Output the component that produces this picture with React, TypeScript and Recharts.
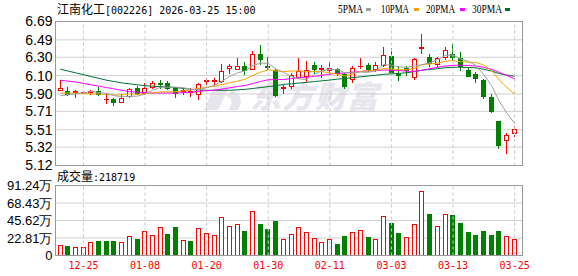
import React from "react"
import { Bar, CartesianGrid, ComposedChart, Line, ReferenceLine, XAxis, YAxis } from "recharts"

// K-line + volume panel, East Money style.

const dates = [
  "12-22", "12-23", "12-24", "12-25", "12-26", "12-29", "12-30", "12-31", "01-05", "01-06",
  "01-07", "01-08", "01-09", "01-12", "01-13", "01-14", "01-15", "01-16", "01-19", "01-20",
  "01-21", "01-22", "01-23", "01-26", "01-27", "01-28", "01-29", "01-30", "02-02", "02-03",
  "02-04", "02-05", "02-06", "02-09", "02-10", "02-11", "02-12", "02-13", "02-24", "02-25",
  "02-26", "02-27", "03-02", "03-03", "03-04", "03-05", "03-06", "03-09", "03-10", "03-11",
  "03-12", "03-13", "03-16", "03-17", "03-18", "03-19", "03-20", "03-23", "03-24", "03-25",
]

const opens = [
  5.94, 5.93, 5.92, 5.92, 5.92, 5.93, 5.84, 5.85, 5.81, 5.88,
  5.97, 5.91, 5.98, 6.02, 6.02, 5.97, 5.93, 5.92, 5.90, 6.04,
  6.04, 6.04, 6.18, 6.17, 6.20, 6.17, 6.34, 6.20, 6.16, 5.97,
  5.99, 6.08, 6.10, 6.22, 6.17, 6.16, 6.17, 6.12, 6.06, 6.20,
  6.22, 6.17, 6.22, 6.31, 6.12, 6.18, 6.08, 6.40, 6.30, 6.23,
  6.30, 6.34, 6.29, 6.16, 6.12, 6.05, 5.87, 5.61, 5.40, 5.47,
]
const highs = [
  6.05, 5.98, 5.94, 5.93, 5.94, 5.98, 5.91, 5.86, 5.90, 5.96,
  5.99, 6.02, 6.04, 6.05, 6.04, 5.98, 5.96, 5.96, 6.02, 6.07,
  6.07, 6.23, 6.23, 6.29, 6.25, 6.37, 6.43, 6.30, 6.17, 6.00,
  6.13, 6.29, 6.26, 6.25, 6.22, 6.25, 6.18, 6.14, 6.21, 6.29,
  6.24, 6.25, 6.41, 6.40, 6.20, 6.20, 6.29, 6.55, 6.34, 6.30,
  6.41, 6.44, 6.36, 6.19, 6.14, 6.06, 5.90, 5.61, 5.47, 5.55,
]
const lows = [
  5.94, 5.89, 5.87, 5.91, 5.90, 5.89, 5.80, 5.78, 5.81, 5.87,
  5.90, 5.90, 5.97, 5.97, 5.95, 5.87, 5.90, 5.88, 5.85, 6.01,
  6.00, 6.03, 6.13, 6.17, 6.12, 6.17, 6.23, 6.17, 5.88, 5.91,
  5.97, 6.07, 6.04, 6.13, 6.08, 6.12, 6.11, 5.97, 6.03, 6.18,
  6.15, 6.15, 6.20, 6.13, 6.05, 6.11, 6.06, 6.35, 6.21, 6.21,
  6.28, 6.28, 6.16, 6.10, 6.03, 5.86, 5.70, 5.31, 5.26, 5.44,
]
const closes = [
  5.96, 5.90, 5.93, 5.92, 5.93, 5.90, 5.85, 5.81, 5.86, 5.95,
  5.91, 5.97, 6.02, 6.01, 5.96, 5.91, 5.94, 5.93, 6.01, 6.05,
  6.05, 6.15, 6.20, 6.20, 6.16, 6.34, 6.28, 6.19, 5.89, 5.98,
  6.11, 6.15, 6.16, 6.17, 6.18, 6.18, 6.13, 5.99, 6.18, 6.21,
  6.17, 6.22, 6.33, 6.14, 6.11, 6.16, 6.28, 6.41, 6.24, 6.29,
  6.38, 6.30, 6.20, 6.10, 6.07, 5.88, 5.71, 5.34, 5.45, 5.52,
]

const ma5 = [
  5.88, 5.89, 5.90, 5.91, 5.928, 5.916, 5.906, 5.882, 5.870, 5.874,
  5.876, 5.900, 5.942, 5.972, 5.974, 5.974, 5.968, 5.950, 5.950, 5.968,
  5.996, 6.038, 6.092, 6.130, 6.152, 6.210, 6.236, 6.234, 6.172, 6.136,
  6.090, 6.064, 6.058, 6.114, 6.154, 6.168, 6.164, 6.130, 6.132, 6.138,
  6.136, 6.154, 6.222, 6.214, 6.194, 6.192, 6.204, 6.220, 6.240, 6.276,
  6.320, 6.324, 6.282, 6.254, 6.210, 6.110, 5.992, 5.820, 5.690, 5.580,
]
const ma10 = [
  5.91, 5.91, 5.91, 5.905, 5.90, 5.90, 5.895, 5.89, 5.89, 5.901,
  5.896, 5.903, 5.912, 5.921, 5.924, 5.925, 5.934, 5.946, 5.961, 5.971,
  5.985, 6.003, 6.021, 6.040, 6.060, 6.103, 6.137, 6.163, 6.151, 6.144,
  6.150, 6.150, 6.146, 6.143, 6.145, 6.129, 6.114, 6.094, 6.123, 6.146,
  6.152, 6.159, 6.176, 6.173, 6.166, 6.164, 6.179, 6.221, 6.227, 6.235,
  6.256, 6.264, 6.251, 6.247, 6.243, 6.215, 6.158, 6.051, 5.972, 5.895,
]
const ma20 = [
  6.05, 6.04, 6.03, 6.015, 6.00, 5.985, 5.97, 5.955, 5.94, 5.925,
  5.92, 5.915, 5.91, 5.91, 5.91, 5.91, 5.915, 5.92, 5.93, 5.936,
  5.941, 5.953, 5.967, 5.981, 5.992, 6.014, 6.036, 6.055, 6.056, 6.058,
  6.068, 6.077, 6.084, 6.092, 6.103, 6.116, 6.126, 6.129, 6.137, 6.145,
  6.151, 6.155, 6.161, 6.158, 6.156, 6.147, 6.147, 6.158, 6.175, 6.191,
  6.204, 6.212, 6.214, 6.210, 6.205, 6.190, 6.169, 6.136, 6.100, 6.065,
]
const ma30 = [
  6.17, 6.15, 6.13, 6.11, 6.09, 6.07, 6.05, 6.035, 6.02, 6.01,
  6.00, 5.99, 5.985, 5.98, 5.975, 5.97, 5.96, 5.95, 5.945, 5.94,
  5.94, 5.94, 5.94, 5.945, 5.95, 5.96, 5.97, 5.98, 5.99, 6.005,
  6.010, 6.019, 6.026, 6.035, 6.043, 6.052, 6.062, 6.068, 6.078, 6.087,
  6.096, 6.104, 6.114, 6.119, 6.124, 6.132, 6.143, 6.159, 6.167, 6.175,
  6.186, 6.191, 6.191, 6.188, 6.185, 6.169, 6.150, 6.122, 6.107, 6.092,
]

// volume in 万手
const volumes = [
  14.3, 13.0, 11.2, 11.2, 17.0, 18.3, 18.3, 18.3, 17.0, 25.9,
  21.0, 31.3, 26.4, 36.7, 27.7, 37.1, 19.7, 18.3, 35.3, 29.1,
  27.3, 50.1, 38.0, 40.7, 31.7, 58.1, 41.1, 34.4, 45.1, 21.9,
  28.4, 37.7, 31.0, 23.0, 17.7, 21.7, 15.5, 25.7, 31.0, 33.7,
  23.5, 21.7, 50.9, 42.1, 28.8, 24.4, 41.6, 84.2, 54.0, 39.0,
  54.0, 52.7, 42.1, 30.1, 26.1, 32.3, 26.1, 32.3, 25.7, 21.87,
]
// 1 = red (up) volume bar, 0 = green
const volUp = [
  1, 0, 1, 1, 1, 0, 0, 0, 1, 1,
  0, 1, 1, 1, 0, 0, 1, 0, 1, 1,
  1, 1, 1, 1, 0, 1, 0, 0, 0, 1,
  1, 1, 1, 1, 1, 1, 0, 0, 1, 1,
  0, 1, 1, 0, 0, 1, 1, 1, 0, 1,
  1, 0, 0, 0, 0, 0, 0, 0, 1, 1,
]

const priceTicks = [5.12, 5.32, 5.51, 5.71, 5.90, 6.10, 6.30, 6.49, 6.69]
const volTicks = [0, 22.81, 45.62, 68.43, 91.24]
const volTickLabels = ["0", "22.81万", "45.62万", "68.43万", "91.24万"]
const dateTicks = ["12-25", "01-08", "01-20", "01-30", "02-11", "03-03", "03-13", "03-25"]

const RED = "#ff0000"
const GREEN = "#008000"
const MA_COLORS = { ma5: "#a0a0a0", ma10: "#f5a300", ma20: "#ff00ff", ma30: "#006f37" }
const SANS = "'Liberation Sans', Arial, sans-serif"
const MONO = "'DejaVu Sans Mono', monospace"
const CJK = "'Noto Sans CJK SC', sans-serif"

const rows = dates.map((date, i) => ({
  date,
  open: opens[i],
  high: highs[i],
  low: lows[i],
  close: closes[i],
  ma5: ma5[i],
  ma10: ma10[i],
  ma20: ma20[i],
  ma30: ma30[i],
  vol: volumes[i],
  volUp: volUp[i] === 1,
}))

function Candle(props: any) {
  const { x, y, width, height, payload } = props
  if (x == null || y == null) return null
  const { open, close, high, low } = payload
  const up = close >= open
  const color = up ? RED : GREEN
  const ratio = high > low ? height / (high - low) : 0
  const yOf = (v: number) => y + (high - v) * ratio
  const top = Math.round(yOf(Math.max(open, close)))
  const bot = Math.round(yOf(Math.min(open, close)))
  const yHigh = Math.round(yOf(high))
  const yLow = Math.round(yOf(low))
  const left = Math.round(x)
  const w = Math.max(3, Math.round(width))
  const cx = left + Math.floor(w / 2) + 0.5
  const bodyH = bot - top

  if (bodyH < 1) {
    return (
      <g>
        <line x1={cx} x2={cx} y1={yHigh} y2={yLow + 1} stroke={color} />
        <line x1={left} x2={left + w} y1={top + 0.5} y2={top + 0.5} stroke={color} />
      </g>
    )
  }
  if (up) {
    return (
      <g>
        <line x1={cx} x2={cx} y1={yHigh} y2={top} stroke={color} />
        <line x1={cx} x2={cx} y1={bot} y2={yLow + 1} stroke={color} />
        <rect x={left + 0.5} y={top + 0.5} width={w - 1} height={bodyH} fill="#fff" stroke={color} />
      </g>
    )
  }
  return (
    <g>
      <line x1={cx} x2={cx} y1={yHigh} y2={yLow + 1} stroke={color} />
      <rect x={left} y={top} width={w} height={bodyH + 1} fill={color} />
    </g>
  )
}

function VolBar(props: any) {
  const { x, y, width, height, payload } = props
  if (x == null || y == null) return null
  const left = Math.round(x)
  const w = Math.max(3, Math.round(width))
  const top = Math.round(y)
  const bot = Math.round(y + height)
  if (payload.volUp) {
    return <rect x={left + 0.5} y={top + 0.5} width={w - 1} height={bot - top - 1} fill="#fff" stroke={RED} />
  }
  return <rect x={left} y={top} width={w} height={bot - top} fill={GREEN} />
}

const legendItems = [
  { label: "5PMA", key: "ma5", x: 338, w: 25, sx: 366 },
  { label: "10PMA", key: "ma10", x: 381, w: 28, sx: 414 },
  { label: "20PMA", key: "ma20", x: 426, w: 29, sx: 460 },
  { label: "30PMA", key: "ma30", x: 472, w: 30, sx: 505 },
] as const

export default function App() {
  return (
    <div style={{ position: "relative", width: 578, height: 276, background: "#fff", overflow: "hidden" }}>
      <style>{"body{margin:0}"}</style>

      {/* watermark */}
      <svg width={578} height={276} style={{ position: "absolute", left: 0, top: 0 }}>
        <path d="M214 86 L230 86 L218 110 L204 110 Z" fill="#e6e6ec" />
        <path d="M232 90 Q246 96 238 110 L228 110 Q236 100 226 96 Z" fill="#e6e6ec" />
        <text x={250} y={108} fontFamily={CJK} fontSize={31} fontWeight={900} fontStyle="italic" fill="#e6e6ec" textLength={128}>
          东方财富
        </text>
      </svg>

      <div style={{ position: "absolute", left: 0, top: 0 }}>
        <ComposedChart width={578} height={276} data={rows} margin={{ top: 21.5, right: 55.5, bottom: 110.5, left: 0 }}>
          <CartesianGrid vertical={false} stroke="#d0d0d0" />
          <XAxis dataKey="date" hide padding={{ left: 1, right: 4 }} />
          <YAxis
            domain={[5.12, 6.69]}
            ticks={priceTicks}
            interval={0}
            allowDataOverflow
            width={55.5}
            axisLine={false}
            tickLine={false}
            tickSize={0}
            tickMargin={3}
            tickFormatter={(v: number) => v.toFixed(2)}
            tick={{ fontSize: 14, fill: "#000", fontFamily: SANS }}
          />
          {dateTicks.map((d) => (
            <ReferenceLine key={d} x={d} stroke="#c8c8c8" strokeDasharray="3 3" />
          ))}
          <Line dataKey="ma30" stroke={MA_COLORS.ma30} strokeWidth={1} dot={false} isAnimationActive={false} />
          <Line dataKey="ma20" stroke={MA_COLORS.ma20} strokeWidth={1} dot={false} isAnimationActive={false} />
          <Line dataKey="ma10" stroke={MA_COLORS.ma10} strokeWidth={1} dot={false} isAnimationActive={false} />
          <Line dataKey="ma5" stroke={MA_COLORS.ma5} strokeWidth={1} dot={false} isAnimationActive={false} />
          <Bar dataKey={(d: any) => [d.low, d.high]} barSize={5} shape={Candle} isAnimationActive={false} />
        </ComposedChart>
      </div>

      <div style={{ position: "absolute", left: 0, top: 0 }}>
        <ComposedChart width={578} height={276} data={rows} margin={{ top: 185.5, right: 55.5, bottom: 0, left: 0 }}>
          <CartesianGrid vertical={false} stroke="#d0d0d0" />
          <XAxis
            dataKey="date"
            ticks={dateTicks}
            interval={0}
            height={20.5}
            padding={{ left: 1, right: 4 }}
            axisLine={false}
            tickLine={false}
            tickSize={0}
            tickMargin={6}
            tick={{ fontSize: 10, fill: RED, fontFamily: MONO }}
          />
          <YAxis
            domain={[0, 91.24]}
            ticks={volTicks}
            interval={0}
            allowDataOverflow
            width={55.5}
            axisLine={false}
            tickLine={false}
            tickSize={0}
            tickMargin={3}
            tickFormatter={(v: number) => volTickLabels[volTicks.indexOf(v)] ?? String(v)}
            tick={{ fontSize: 13, fill: "#000", fontFamily: SANS }}
          />
          {dateTicks.map((d) => (
            <ReferenceLine key={d} x={d} stroke="#c8c8c8" strokeDasharray="3 3" />
          ))}
          <Bar dataKey="vol" barSize={5} shape={VolBar} isAnimationActive={false} />
        </ComposedChart>
      </div>

      {/* frames, titles, legend */}
      <svg width={578} height={276} style={{ position: "absolute", left: 0, top: 0, pointerEvents: "none" }}>
        <rect x={55.5} y={21.5} width={467} height={144} fill="none" stroke="#999" />
        <rect x={55.5} y={185.5} width={467} height={70} fill="none" stroke="#999" />

        <text x={57} y={14} fill="#000">
          <tspan fontFamily={CJK} fontSize={12}>江南化工</tspan>
          <tspan fontFamily={MONO} fontSize={10}>[002226] 2026-03-25 15:00</tspan>
        </text>

        {legendItems.map((it) => (
          <g key={it.key}>
            <text x={it.x} y={13} fontFamily="'Liberation Serif', serif" fontSize={12} fill="#000" textLength={it.w} lengthAdjust="spacingAndGlyphs">
              {it.label}
            </text>
            <rect x={it.sx} y={8} width={5} height={3} fill={MA_COLORS[it.key]} />
          </g>
        ))}

        <text x={57} y={181} fill="#000">
          <tspan fontFamily={CJK} fontSize={12}>成交量</tspan>
          <tspan fontFamily={MONO} fontSize={10}>:218719</tspan>
        </text>
      </svg>
    </div>
  )
}
